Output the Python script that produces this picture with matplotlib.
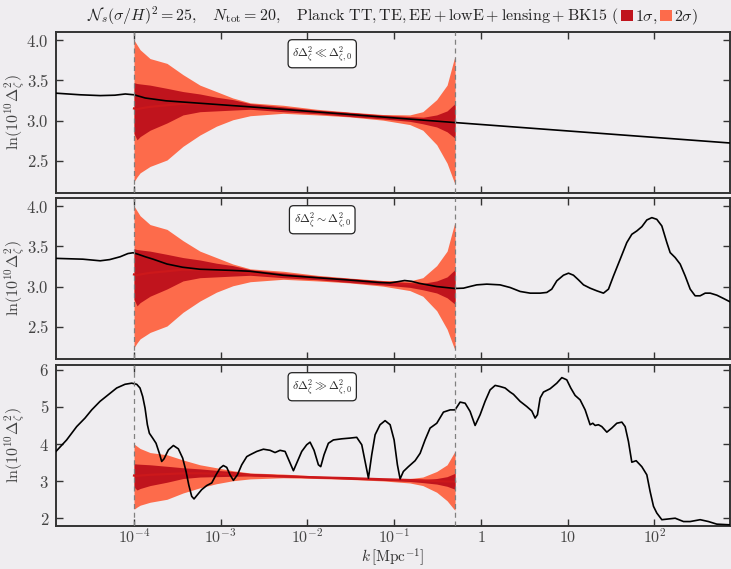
import numpy as np
import matplotlib
matplotlib.use("Agg")
import matplotlib.pyplot as plt
from matplotlib.ticker import NullLocator, FixedLocator, FixedFormatter
from matplotlib.offsetbox import TextArea, DrawingArea, HPacker, AnchoredOffsetbox
from matplotlib.patches import Rectangle

plt.rcParams['mathtext.fontset'] = 'cm'
plt.rcParams['font.family'] = 'serif'

# ---------------------------------------------------------------- data
# Constrained band (log10 k, value)
band_logk = [-4.0, -3.965, -3.93, -3.815, -3.62, -3.435, -3.24, -3.05, -2.86,
             -2.66, -2.28, -1.89, -1.51, -1.13, -0.82, -0.67, -0.51, -0.39,
             -0.31, -0.298]
band2_hi = [4.00, 3.94, 3.88, 3.77, 3.71, 3.57, 3.44, 3.36, 3.28,
            3.22, 3.19, 3.14, 3.105, 3.075, 3.07, 3.11, 3.26, 3.44,
            3.76, 3.80]
band2_lo = [2.24, 2.30, 2.35, 2.43, 2.51, 2.68, 2.82, 2.93, 3.01,
            3.06, 3.09, 3.07, 3.045, 3.005, 2.95, 2.88, 2.70, 2.47,
            2.24, 2.22]
band1_hi = [3.47, 3.46, 3.455, 3.44, 3.40, 3.36, 3.33, 3.29, 3.26,
            3.21, 3.17, 3.13, 3.10, 3.06, 3.04, 3.04, 3.07, 3.12,
            3.20, 3.21]
band1_lo = [2.84, 2.76, 2.80, 2.88, 2.97, 3.07, 3.11, 3.12, 3.13,
            3.14, 3.11, 3.085, 3.05, 3.02, 2.99, 2.96, 2.92, 2.86,
            2.79, 2.78]
band_mid = [3.15, 3.14, 3.15, 3.17, 3.19, 3.21, 3.21, 3.20, 3.19,
            3.16, 3.13, 3.10, 3.08, 3.05, 3.03, 3.02, 3.00, 2.99,
            2.985, 2.985]

# Reconstructed spectra, one per panel (log10 k, value)
flat_logk = [-4.90, -4.62, -4.39, -4.22, -4.10, -4.00, -3.87, -3.63, -3.24,
             -2.66, -0.298, 2.886]
flat_vals = [3.34, 3.32, 3.31, 3.315, 3.33, 3.32, 3.28, 3.245, 3.215,
             3.17, 2.975, 2.72]

mid_logk = [-4.90, -4.59, -4.39, -4.28, -4.16, -4.07, -4.01, -3.95, -3.87,
            -3.78, -3.70, -3.62, -3.44, -3.24, -2.86, -2.66, -2.28, -1.89,
            -1.51, -1.17, -1.05, -0.96, -0.88, -0.80, -0.71, -0.51, -0.298,
            -0.201, -0.125, -0.048, 0.068, 0.221, 0.337, 0.452, 0.568,
            0.683, 0.760, 0.817, 0.875, 0.952, 1.010, 1.067, 1.125, 1.183,
            1.259, 1.336, 1.413, 1.471, 1.529, 1.606, 1.682, 1.740, 1.798,
            1.856, 1.913, 1.971, 2.028, 2.086, 2.144, 2.182, 2.240, 2.298,
            2.355, 2.413, 2.470, 2.528, 2.586, 2.644, 2.720, 2.797, 2.886]
mid_vals = [3.35, 3.34, 3.32, 3.335, 3.37, 3.41, 3.42, 3.40, 3.37,
            3.34, 3.31, 3.28, 3.24, 3.215, 3.20, 3.19, 3.14, 3.11,
            3.08, 3.05, 3.045, 3.06, 3.075, 3.065, 3.04, 3.00, 2.976,
            2.980, 3.001, 3.021, 3.030, 3.021, 2.988, 2.939, 2.918,
            2.918, 2.927, 2.968, 3.071, 3.141, 3.166, 3.141, 3.083, 3.021,
            2.980, 2.947, 2.918, 2.968, 3.133, 3.340, 3.546, 3.649, 3.691,
            3.744, 3.827, 3.856, 3.835, 3.753, 3.546, 3.422, 3.360, 3.278,
            3.133, 2.968, 2.885, 2.885, 2.918, 2.918, 2.893, 2.852, 2.803]

big_logk = [-4.900, -4.777, -4.661, -4.565, -4.488, -4.392, -4.296, -4.200,
            -4.104, -4.027, -3.969, -3.931, -3.900, -3.873, -3.846, -3.823,
            -3.785, -3.746, -3.708, -3.681, -3.654, -3.604, -3.546, -3.489,
            -3.439, -3.400, -3.369, -3.335, -3.308, -3.269, -3.220, -3.162,
            -3.104, -3.054, -3.008, -2.970, -2.931, -2.893, -2.854, -2.808,
            -2.758, -2.700,
            -2.662, -2.585, -2.508, -2.431, -2.374, -2.316, -2.258, -2.208,
            -2.162, -2.116, -2.066, -2.009, -1.970, -1.924, -1.874, -1.847,
            -1.809, -1.759, -1.701, -1.605, -1.509, -1.432, -1.374, -1.336,
            -1.297, -1.259, -1.220, -1.163, -1.105, -1.047, -1.001, -0.963,
            -0.932, -0.894, -0.836, -0.759, -0.701, -0.644, -0.586, -0.509,
            -0.432, -0.355, -0.298, -0.240, -0.182, -0.125, -0.067, -0.009,
            0.048, 0.106, 0.164,
            0.221, 0.279, 0.337, 0.375, 0.452, 0.529, 0.587, 0.625, 0.652,
            0.683, 0.721, 0.798, 0.875, 0.933, 0.990, 1.036, 1.086, 1.144,
            1.202, 1.259, 1.290, 1.317, 1.355, 1.394, 1.452, 1.509, 1.567,
            1.625, 1.663, 1.701, 1.740, 1.790, 1.855, 1.913, 1.951, 1.990,
            2.028, 2.086, 2.163, 2.240, 2.336, 2.413, 2.528, 2.624, 2.720,
            2.886]
big_vals = [3.80, 4.11, 4.47, 4.70, 4.92, 5.15, 5.33, 5.51,
            5.61, 5.64, 5.61, 5.51, 5.28, 4.97, 4.52, 4.29,
            4.16, 4.02, 3.75, 3.53, 3.60, 3.84, 3.96, 3.87,
            3.62, 3.26, 2.90, 2.59, 2.52, 2.63, 2.77, 2.88,
            2.95, 3.17, 3.35, 3.42, 3.37, 3.17, 3.02, 3.17,
            3.44, 3.66,
            3.71, 3.80, 3.86, 3.83, 3.77, 3.83, 3.80, 3.53,
            3.28, 3.53, 3.80, 3.98, 4.05, 3.83, 3.44, 3.39,
            3.71, 4.02, 4.11, 4.14, 4.16, 4.18, 3.98, 3.53,
            3.08, 3.71, 4.25, 4.52, 4.63, 4.52, 4.11, 3.44,
            3.06, 3.26, 3.39, 3.55, 3.75, 4.11, 4.43, 4.56,
            4.86, 4.92, 4.92, 5.13, 5.10, 4.88, 4.50, 4.79,
            5.15, 5.46, 5.58,
            5.55, 5.51, 5.40, 5.34, 5.15, 5.01, 4.89, 4.70, 4.79,
            5.24, 5.40, 5.49, 5.64, 5.79, 5.73, 5.51, 5.31, 5.19,
            4.92, 4.52, 4.56, 4.50, 4.52, 4.47, 4.32, 4.43, 4.56,
            4.59, 4.47, 4.07, 3.51, 3.55, 3.39, 3.17, 2.72, 2.32,
            2.14, 1.96, 1.98, 2.00, 1.91, 1.91, 1.96, 1.91, 1.84,
            1.82]

panel_labels = [r'$\delta\Delta_\zeta^2 \ll \Delta_{\zeta,0}^2$',
                r'$\delta\Delta_\zeta^2 \sim \Delta_{\zeta,0}^2$',
                r'$\delta\Delta_\zeta^2 \gg \Delta_{\zeta,0}^2$']
x_ticks = [1e-4, 1e-3, 1e-2, 1e-1, 1, 10, 100]
x_ticklabels = [r'$10^{-4}$', r'$10^{-3}$', r'$10^{-2}$', r'$10^{-1}$',
                r'$1$', r'$10$', r'$10^{2}$']
k_min, k_max = 1e-4, 0.5

# ---------------------------------------------------------------- style
BG = '#efedf0'
C1 = '#c0141d'
C2 = '#fd6b4b'
CMID = '#cc181b'
INK = '#333333'

fig = plt.figure(figsize=(7.31, 5.69), dpi=100, facecolor=BG)

W = 674 / 731
L = 56 / 731
H = 161 / 569
bottoms = [1 - 193 / 569, 1 - 359 / 569, 1 - 526 / 569]
ylims = [(2.1, 4.1), (2.1, 4.1), (1.79, 6.13)]
yticks = [[2.5, 3.0, 3.5, 4.0], [2.5, 3.0, 3.5, 4.0], [2, 3, 4, 5, 6]]
yticklabels = [[r'$2.5$', r'$3.0$', r'$3.5$', r'$4.0$']] * 2 + \
              [[r'$2$', r'$3$', r'$4$', r'$5$', r'$6$']]
curves = [(flat_logk, flat_vals), (mid_logk, mid_vals), (big_logk, big_vals)]

kb = 10 ** np.asarray(band_logk)

for i in range(3):
    ax = fig.add_axes([L, bottoms[i], W, H])
    ax.set_facecolor(BG)
    ax.set_xscale('log')
    ax.set_xlim(1.26e-5, 745)
    ax.set_ylim(*ylims[i])

    ax.fill_between(kb, band2_lo, band2_hi, color=C2, lw=0, zorder=1)
    ax.fill_between(kb, band1_lo, band1_hi, color=C1, lw=0, zorder=2)
    ax.plot(kb, band_mid, color=CMID, lw=1.6, zorder=3)

    lk, vals = curves[i]
    ax.plot(10 ** np.asarray(lk), vals, color='black', lw=1.2, zorder=4,
            solid_joinstyle='round')

    for kv in (k_min, k_max):
        ax.axvline(kv, color='#808080', lw=0.9, ls=(0, (4, 3)), zorder=5)

    ax.text(0.395, 0.865, panel_labels[i], transform=ax.transAxes,
            ha='center', va='center', fontsize=8.5, color='#222222',
            zorder=6,
            bbox=dict(boxstyle='round,pad=0.35', fc='white', ec='#222222',
                      lw=0.9))

    ax.xaxis.set_major_locator(FixedLocator(x_ticks))
    ax.xaxis.set_minor_locator(NullLocator())
    ax.yaxis.set_major_locator(FixedLocator(yticks[i]))
    ax.yaxis.set_major_formatter(FixedFormatter(yticklabels[i]))

    ax.tick_params(which='both', direction='in', top=True, right=True,
                   length=5, width=1, color=INK, labelcolor='#444444',
                   labelsize=12, pad=5)
    ax.tick_params(axis='x', pad=2, labelsize=11.5)
    if i == 2:
        ax.xaxis.set_major_formatter(FixedFormatter(x_ticklabels))
    else:
        ax.xaxis.set_major_formatter(FixedFormatter([''] * len(x_ticks)))

    for s in ax.spines.values():
        s.set_color(INK)
        s.set_linewidth(1.4)

    ax.set_ylabel(r'$\ln(10^{10}\Delta_\zeta^2)$', fontsize=11.5,
                  color='#444444')
    ax.yaxis.set_label_coords(-0.043, 0.5)

fig.text(L + W / 2, 0.001, r'$k\,[\mathrm{Mpc}^{-1}]$', fontsize=11,
         color=INK, ha='center', va='bottom')

# ---------------------------------------------------------------- title
fs = 11.5
tprops = dict(fontsize=fs, color='#222222')


def square(color):
    da = DrawingArea(8, 8, 0, 0)
    da.add_artist(Rectangle((0, 0), 8, 8, fc=color, ec='none'))
    return da


parts = [
    TextArea(r'$\mathcal{N}_s(\sigma/H)^2 = 25,\quad N_{\rm tot} = 20,\quad'
             r' {\rm Planck\ TT,TE,EE + lowE + lensing + BK15}\ ($',
             textprops=tprops),
    square(C1),
    TextArea(r'$1\sigma,$', textprops=tprops),
    square(C2),
    TextArea(r'$2\sigma)$', textprops=tprops),
]
title_box = HPacker(children=parts, align='baseline', pad=0, sep=2)
anchored = AnchoredOffsetbox(loc='center', child=title_box,
                             bbox_to_anchor=(392.5 / 731, 1 - 16 / 569),
                             bbox_transform=fig.transFigure,
                             frameon=False, pad=0, borderpad=0)
fig.add_artist(anchored)

fig.savefig('out.png', dpi=100, facecolor=BG)
